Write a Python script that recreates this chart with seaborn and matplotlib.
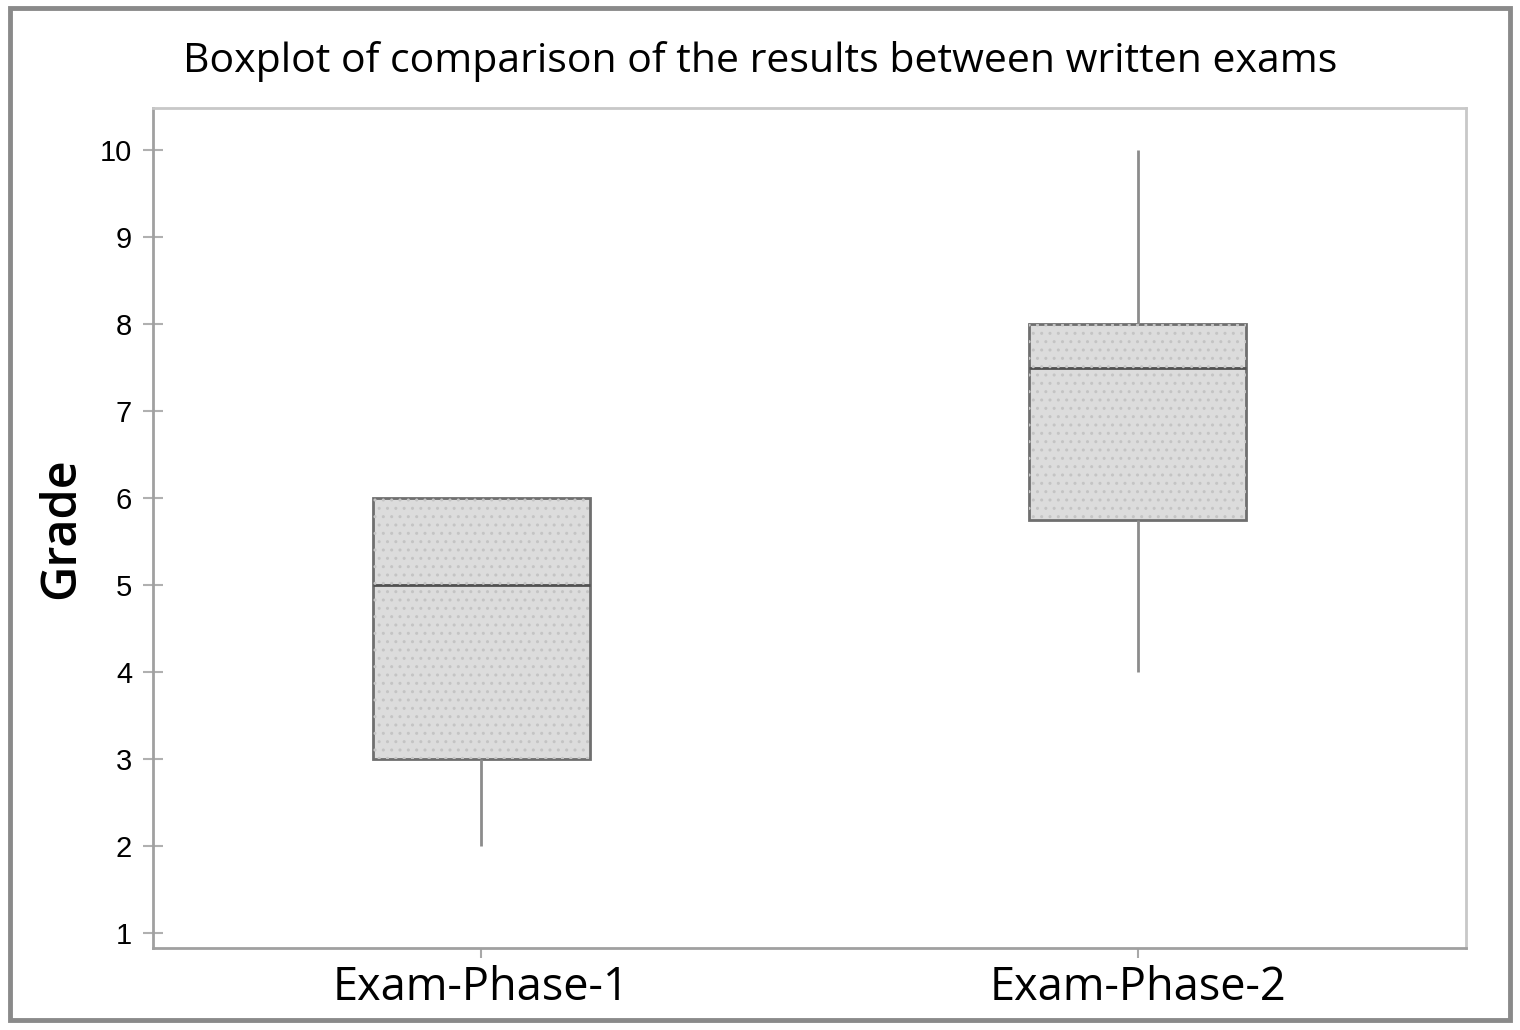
import matplotlib
matplotlib.use("Agg")
import matplotlib.pyplot as plt
from matplotlib.patches import Rectangle, PathPatch
import pandas as pd
import seaborn as sns

# five-number summaries (low whisker, Q1, median, Q3, high whisker)
exams = ["Exam-Phase-1", "Exam-Phase-2"]
phase1_grades = [2.0, 3.0, 5.0, 6.0, 6.0]
phase2_grades = [4.0, 5.75, 7.5, 8.0, 10.0]
y_ticks = [1, 2, 3, 4, 5, 6, 7, 8, 9, 10]

df = pd.DataFrame({
    "exam": [exams[0]] * len(phase1_grades) + [exams[1]] * len(phase2_grades),
    "grade": phase1_grades + phase2_grades,
})

sns.set_theme(style="white")
plt.rcParams["font.family"] = ["Open Sans", "DejaVu Sans"]

fig = plt.figure(figsize=(15.2, 10.3), dpi=100)
ax = fig.add_axes([153 / 1520, 82 / 1030, (1466 - 153) / 1520, (948 - 108) / 1030])

sns.boxplot(
    data=df, x="exam", y="grade", ax=ax, order=exams,
    width=0.33, color="#dcdcdc", linecolor="#6f6f6f", linewidth=2,
    showcaps=False, whis=1.5, saturation=1,
    whiskerprops=dict(color="#8c8c8c", linewidth=2),
    medianprops=dict(color="#505050", linewidth=2),
    boxprops=dict(facecolor="#dcdcdc", edgecolor="#6f6f6f"),
)

# faint stipple on the boxes
for p in list(ax.patches):
    ax.add_patch(PathPatch(p.get_path(), transform=p.get_transform(),
                           facecolor="none", edgecolor="#c4c4c4",
                           linewidth=0, hatch="..", zorder=p.get_zorder() + 0.1))

ax.set_xlim(-0.5, 1.5)
ax.set_ylim(0.828, 10.483)
ax.set_yticks(y_ticks)
ax.set_yticklabels([str(t) for t in y_ticks], family=["Liberation Sans", "DejaVu Sans"],
                   fontsize=21, color="black")
for lbl in ax.get_xticklabels():
    lbl.set_color("black")
ax.set_xlabel("")
ax.set_ylabel("Grade", fontsize=35, fontweight="semibold", color="black", labelpad=10)
ax.tick_params(axis="x", labelsize=32.5, labelcolor="black", length=7, width=1.5,
               color="#a8a8a8", pad=5, direction="out")
ax.tick_params(axis="y", length=14, width=1.5, color="#b0b0b0", pad=8, direction="inout")
ax.tick_params(left=True, bottom=True)

for side in ["left", "bottom"]:
    ax.spines[side].set_color("#a0a0a0")
    ax.spines[side].set_linewidth(2)
for side in ["top", "right"]:
    ax.spines[side].set_color("#c8c8c8")
    ax.spines[side].set_linewidth(2)

fig.text(0.5, 1 - 62 / 1030, "Boxplot of comparison of the results between written exams",
         ha="center", va="center", fontsize=29.5, color="black")

# outer frame
fig.patches.append(Rectangle((10 / 1520, 10 / 1030), 1500 / 1520, 1012 / 1030,
                             transform=fig.transFigure, fill=False,
                             edgecolor="#8a8a8a", linewidth=3.5))

fig.savefig("out.png", dpi=100)
